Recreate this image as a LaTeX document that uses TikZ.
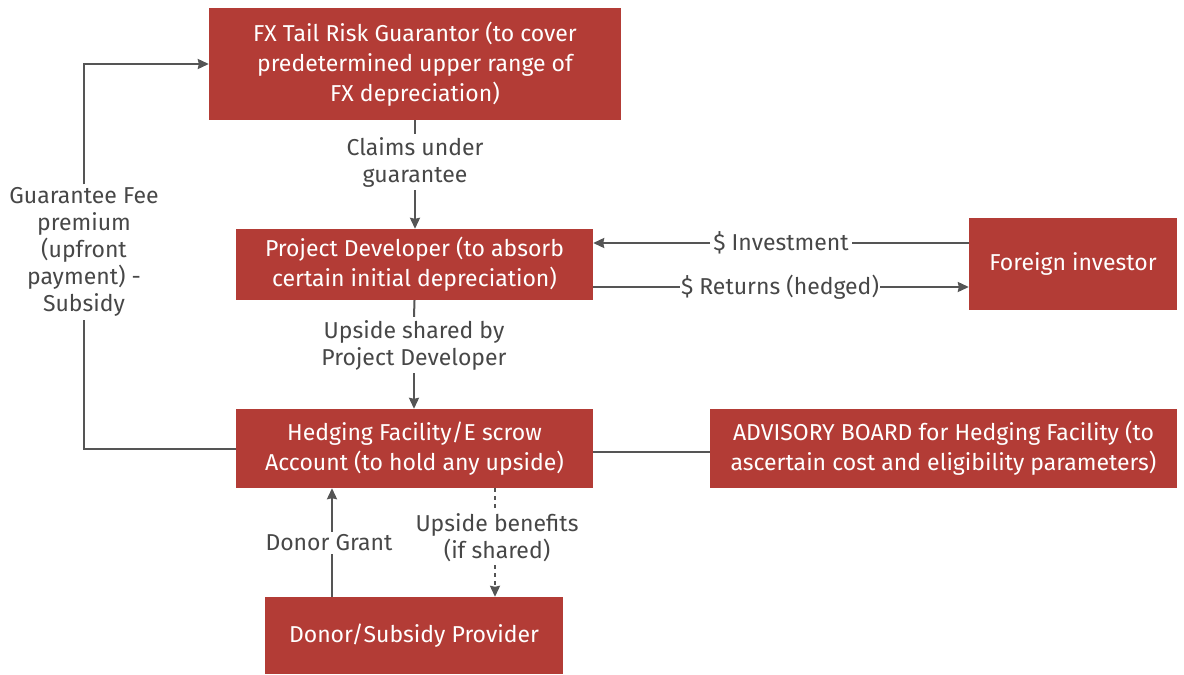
\documentclass[tikz,border=0pt]{standalone}
\usepackage{fontspec}
\setmainfont{Fira Sans}
\usetikzlibrary{arrows.meta,calc}
\definecolor{boxred}{HTML}{B33C36}
\definecolor{linegray}{HTML}{555555}
\definecolor{textgray}{HTML}{474747}
\begin{document}
\begin{tikzpicture}[x=1pt,y=-1pt,
 box/.style={fill=boxred, text=white, align=center, font=\fontsize{23}{30}\selectfont, inner sep=0pt},
 lbl/.style={text=textgray, align=center, font=\fontsize{23}{27}\selectfont, inner sep=3pt},
 conn/.style={draw=linegray, line width=2pt},
 arr/.style={conn, -{Stealth[length=11pt,width=10pt,inset=1pt]}},
 dsh/.style={dash pattern=on 4pt off 4pt},
]
\useasboundingbox (0,0) rectangle (1184,675);
% boxes
\node[box, minimum width=412pt, minimum height=112pt] (G) at (415,64)
  {FX Tail Risk Guarantor (to cover\\predetermined upper range of\\FX depreciation)};
\node[box, minimum width=357pt, minimum height=71pt] (PD) at (414.5,264.5)
  {Project Developer (to absorb\\certain initial depreciation)};
\node[box, minimum width=208pt, minimum height=92pt] (FI) at (1073,264)
  {Foreign investor};
\node[box, minimum width=357pt, minimum height=79pt] (HF) at (414.5,448.5)
  {Hedging Facility/E scrow\\Account (to hold any upside)};
\node[box, minimum width=467pt, minimum height=79pt] (AB) at (943.5,448.5)
  {ADVISORY BOARD for Hedging Facility (to\\ascertain cost and eligibility parameters)};
\node[box, minimum width=298pt, minimum height=77pt] (D) at (414,635.5)
  {Donor/Subsidy Provider};
% labels
\node[lbl] (claims) at (415,162) {Claims under\\guarantee};
\node[lbl] (ups) at (414,345) {Upside shared by\\Project Developer};
\node[lbl] (fee) at (84,252) {Guarantee Fee\\premium\\(upfront\\payment) -\\Subsidy};
\node[lbl] (inv) at (781,243) {\$ Investment};
\node[lbl, inner sep=1pt] (ret) at (780,287) {\$ Returns (hedged)};
\node[lbl] (grant) at (329,543) {Donor Grant};
\node[lbl] (ben) at (497,538) {Upside benefits\\(if shared)};
% helper coordinates
\coordinate (hfab) at (0,452);
\coordinate (dgx) at (332,0);
\coordinate (ubx) at (495,0);
% connectors
\draw[conn] (G.south) -- (claims.north);
\draw[arr] (claims.south) -- (claims.south |- PD.north);
\draw[conn] (PD.south) -- (ups.north);
\draw[arr] (ups.south) -- (ups.south |- HF.north);
\draw[conn] (inv.east -| FI.west) -- (inv.east);
\draw[arr] (inv.west) -- (inv.west -| PD.east);
\draw[conn] (ret.west -| PD.east) -- (ret.west);
\draw[arr] (ret.east) -- (ret.east -| FI.west);
\draw[conn] (HF.east |- hfab) -- (AB.west |- hfab);
\draw[conn] (HF.west) -| (fee.south);
\draw[arr] (fee.north) |- (G.west);
\draw[conn] (dgx |- grant.south) -- (dgx |- D.north);
\draw[arr] (dgx |- grant.north) -- (dgx |- HF.south);
\draw[conn, dsh] (ubx |- HF.south) -- (ubx |- ben.north);
\draw[arr, dsh] (ubx |- ben.south) -- (ubx |- D.north);
\end{tikzpicture}
\end{document}
